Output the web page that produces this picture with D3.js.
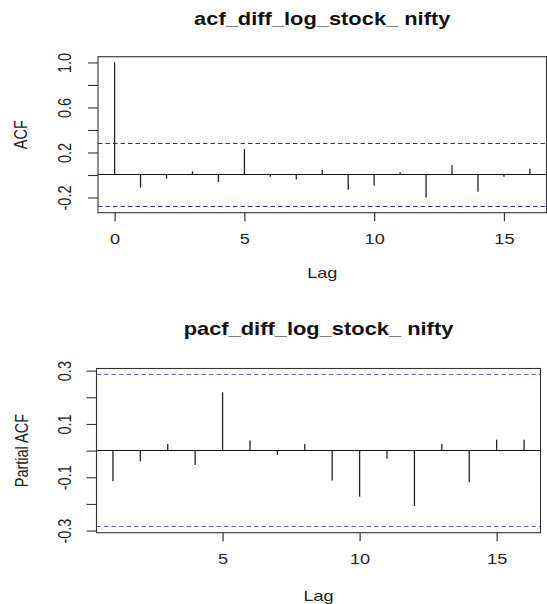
<!DOCTYPE html>
<html><head><meta charset="utf-8">
<script src="https://cdn.jsdelivr.net/npm/d3@7"></script>
<style>html,body{margin:0;padding:0;background:#fff;} svg{display:block;}</style>
</head><body>
<svg id="chart" width="547" height="604"></svg>
<script>
// ---- data ----
const acfTitle = "acf_diff_log_stock_ nifty";
const pacfTitle = "pacf_diff_log_stock_ nifty";
const xLabel = "Lag";
const acfYLabel = "ACF";
const pacfYLabel = "Partial ACF";

const acfLags = [0, 1, 2, 3, 4, 5, 6, 7, 8, 9, 10, 11, 12, 13, 14, 15, 16];
const acfValues = [1.0, -0.113, -0.033, 0.033, -0.062, 0.231, -0.015, -0.041, 0.047, -0.13, -0.095, 0.024, -0.2, 0.089, -0.148, -0.015, 0.056];

const pacfLags = [1, 2, 3, 4, 5, 6, 7, 8, 9, 10, 11, 12, 13, 14, 15, 16];
const pacfValues = [-0.115, -0.040, 0.025, -0.054, 0.219, 0.038, -0.016, 0.025, -0.112, -0.173, -0.030, -0.208, 0.025, -0.119, 0.041, 0.041];

const ciBound = 0.284;

const acfXTicks = [0, 5, 10, 15];
const acfYTicks = [-0.2, 0, 0.2, 0.4, 0.6, 0.8, 1.0];
const acfYTickLabels = ["-0.2", "", "0.2", "", "0.6", "", "1.0"];

const pacfXTicks = [5, 10, 15];
const pacfYTicks = [-0.3, -0.2, -0.1, 0, 0.1, 0.2, 0.3];
const pacfYTickLabels = ["-0.3", "", "-0.1", "", "0.1", "", "0.3"];

// ---- layout / style ----
const SX = 1.25;            // horizontal stretch of the reference image
const FONT = "'Liberation Sans', Arial, sans-serif";
const AXIS_FS = 14.5;
const TITLE_FS = 17.5;

const svg = d3.select("#chart");
const crisp = v => Math.floor(v) + 0.5;

function panel(cfg) {
  const x = d3.scaleLinear().domain(cfg.xDomain).range([cfg.left, cfg.right]);
  const y = d3.scaleLinear().domain(cfg.yDomain).range([cfg.bottom, cfg.top]);
  const g = svg.append("g");

  // confidence bands
  [ciBound, -ciBound].forEach(v => {
    g.append("line")
      .attr("x1", cfg.left).attr("x2", cfg.right)
      .attr("y1", crisp(y(v))).attr("y2", crisp(y(v)))
      .attr("stroke", cfg.ciColor).attr("stroke-width", 1.1)
      .attr("stroke-dasharray", "4.5,3");
  });

  // zero line
  g.append("line")
    .attr("x1", cfg.left).attr("x2", cfg.right)
    .attr("y1", crisp(y(0))).attr("y2", crisp(y(0)))
    .attr("stroke", "#111").attr("stroke-width", 1);

  // spikes
  g.selectAll("line.spike").data(cfg.lags.map((l, i) => ({lag: l, v: cfg.values[i]})))
    .enter().append("line").attr("class", "spike")
    .attr("x1", d => x(d.lag)).attr("x2", d => x(d.lag))
    .attr("y1", crisp(y(0))).attr("y2", d => y(d.v))
    .attr("stroke", "#222").attr("stroke-width", 1.3);

  // box
  g.append("rect")
    .attr("x", cfg.left).attr("y", cfg.top)
    .attr("width", cfg.right - cfg.left).attr("height", cfg.bottom - cfg.top)
    .attr("fill", "none").attr("stroke", "#333").attr("stroke-width", 1.1);

  // y axis
  const ya = g.append("g").attr("transform", `translate(${cfg.left},0)`)
    .call(d3.axisLeft(y).tickValues(cfg.yTicks).tickSize(10).tickSizeOuter(0)
      .tickFormat((d, i) => cfg.yTickLabels[i]));
  ya.select(".domain").remove();
  ya.attr("color", "#333");
  ya.selectAll(".tick line").attr("stroke-width", 1.1);
  ya.selectAll("text")
    .attr("x", 0).attr("y", 0).attr("dy", null)
    .attr("text-anchor", "middle")
    .attr("transform", `translate(${71 - cfg.left},0) scale(${SX},1) rotate(-90)`)
    .attr("fill", "#222")
    .style("font-family", FONT).style("font-size", AXIS_FS + "px");

  // x axis
  const xa = g.append("g").attr("transform", `translate(0,${cfg.bottom})`)
    .call(d3.axisBottom(x).tickValues(cfg.xTicks).tickSize(8.5).tickSizeOuter(0));
  xa.select(".domain").remove();
  xa.attr("color", "#333");
  xa.selectAll(".tick line").attr("stroke-width", 1.2);
  xa.selectAll("text")
    .attr("y", 31).attr("dy", null)
    .attr("transform", `scale(${SX},1)`)
    .attr("fill", "#222")
    .style("font-family", FONT).style("font-size", AXIS_FS + "px");

  // axis titles
  const cx = (cfg.left + cfg.right) / 2;
  const cy = (cfg.top + cfg.bottom) / 2;
  g.append("text")
    .attr("transform", `translate(${cx},${cfg.bottom + cfg.xLabelOffset}) scale(${SX},1)`)
    .attr("text-anchor", "middle").attr("fill", "#222")
    .style("font-family", FONT).style("font-size", AXIS_FS + "px")
    .text(xLabel);
  g.append("text")
    .attr("transform", `translate(${cfg.yLabelX},${cy}) scale(${SX},1) rotate(-90)`)
    .attr("text-anchor", "middle").attr("fill", "#222")
    .style("font-family", FONT).style("font-size", AXIS_FS + "px")
    .text(cfg.yLabel);

  // main title
  g.append("text")
    .attr("transform", `translate(${cx},${cfg.titleY}) scale(${SX},1)`)
    .attr("text-anchor", "middle").attr("fill", "#111")
    .style("font-family", FONT).style("font-size", TITLE_FS + "px")
    .style("font-weight", "bold")
    .text(cfg.title);
}

panel({
  title: acfTitle, yLabel: acfYLabel,
  lags: acfLags, values: acfValues,
  xDomain: [-0.64, 16.64], yDomain: [-0.335, 1.051],
  left: 98, right: 546.5, top: 56.7, bottom: 212.7,
  xTicks: acfXTicks, yTicks: acfYTicks, yTickLabels: acfYTickLabels,
  ciColor: "#2a2ab4", titleY: 25, xLabelOffset: 65.6, yLabelX: 27
});

panel({
  title: pacfTitle, yLabel: pacfYLabel,
  lags: pacfLags, values: pacfValues,
  xDomain: [0.4, 16.6], yDomain: [-0.308, 0.308],
  left: 96.5, right: 540.5, top: 368.5, bottom: 532.7,
  xTicks: pacfXTicks, yTicks: pacfYTicks, yTickLabels: pacfYTickLabels,
  ciColor: "#6464cc", titleY: 335, xLabelOffset: 68, yLabelX: 28
});
</script>
</body></html>
